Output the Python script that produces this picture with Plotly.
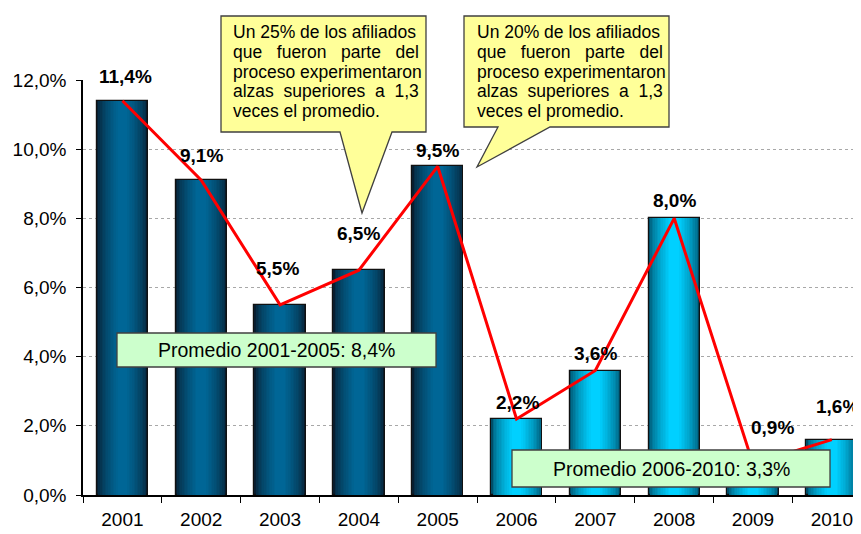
import plotly.graph_objects as go

years = ["2001", "2002", "2003", "2004", "2005", "2006", "2007", "2008", "2009", "2010"]
alzas = [11.4, 9.1, 5.5, 6.5, 9.5, 2.2, 3.6, 8.0, 0.9, 1.6]
prom_1 = "Promedio 2001-2005: 8,4%"
prom_2 = "Promedio 2006-2010: 3,3%"
nota_1 = "Un 25% de los afiliados"
nota_2 = "Un 20% de los afiliados"

FONT = "Liberation Sans, Arial, sans-serif"
OFF = 8  # page body margin
W, H = 861 - OFF, 534 - OFF
L, T, R, B = 83, 80, 861, 495  # plot area in screen pixels


def px(x):
    return (x - L) / (R - L)


def py(y):
    return (B - y) / (B - T)


def mix(c1, c2, t):
    return "rgb(%d,%d,%d)" % tuple(round(a + (b - a) * t) for a, b in zip(c1, c2))


fig = go.Figure()

# bars with a fake horizontal gradient: overlaid bars of decreasing width
n = 14
bw = 0.65
edge1, mid1 = (8, 30, 48), (0, 102, 150)
edge2, mid2 = (0, 78, 105), (0, 208, 255)
for i in range(n):
    t = (i / (n - 1)) ** 0.6
    cols = [mix(edge1, mid1, t) if k < 5 else mix(edge2, mid2, t) for k in range(len(years))]
    fig.add_trace(go.Bar(
        x=years, y=alzas, width=bw * (1 - i / (n + 2)),
        marker=dict(color=cols, line=dict(color="#111" if i == 0 else "rgba(0,0,0,0)", width=1.2 if i == 0 else 0)),
        hoverinfo="skip", showlegend=False))

fig.add_trace(go.Scatter(x=years, y=alzas, mode="lines",
                         line=dict(color="#ff0000", width=3), showlegend=False))

# data labels (x by category index, numeric-looking names confuse annotations)
label_dy = [24, 25, 36, 37, 16, 16, 17, 18, 36, 33]
label_dx = [3, 0, -3, 0, 0, 1, 0, 0, 19, 6]
for k, v in enumerate(alzas):
    fig.add_annotation(x=k, y=v, text="<b>%s%%</b>" % ("%.1f" % v).replace(".", ","),
                       showarrow=False, yanchor="middle", yshift=label_dy[k], xshift=label_dx[k],
                       font=dict(family=FONT, size=19, color="#000"))

shapes = []
# callouts
for pts in ([(221, 16), (426, 16), (426, 132), (392, 132), (362, 213), (340, 132), (221, 132)],
            [(464, 16), (669, 16), (669, 127), (550, 127), (477, 167), (498, 127), (464, 127)]):
    path = "M " + " L ".join("%.5f,%.5f" % (px(a), py(b)) for a, b in pts) + " Z"
    shapes.append(dict(type="path", xref="paper", yref="paper", path=path,
                       fillcolor="#ffff99", line=dict(color="#404040", width=1.3), layer="above"))

sp = "\u00a0"
for left, first in ((231, nota_1), (475, nota_2)):
    lines = [first,
             "que" + sp * 3 + "fueron" + sp * 3 + "parte" + sp * 3 + "del",
             "proceso experimentaron",
             "alzas" + sp * 2 + "superiores" + sp * 2 + "a" + sp * 2 + "1,3",
             "veces el promedio."]
    for j, txt in enumerate(lines):
        fig.add_annotation(xref="paper", yref="paper", x=px(left), y=py(32 + 19.8 * j),
                           xanchor="left", yanchor="middle", text=txt, showarrow=False,
                           font=dict(family=FONT, size=17.5, color="#000"))

# average boxes
for (x0, y0, x1, y1), txt in (((117, 333, 436, 367), prom_1), ((512, 450, 830, 487), prom_2)):
    shapes.append(dict(type="rect", xref="paper", yref="paper", x0=px(x0), x1=px(x1),
                       y0=py(y0), y1=py(y1), fillcolor="#ccffcc",
                       line=dict(color="#404040", width=1.3), layer="above"))
    fig.add_annotation(xref="paper", yref="paper", x=px((x0 + x1) / 2), y=py((y0 + y1) / 2),
                       text=txt, showarrow=False, xanchor="center", yanchor="middle",
                       font=dict(family=FONT, size=19.5, color="#000"))

fig.update_layout(
    width=W, height=H, barmode="overlay", bargap=0,
    margin=dict(l=L - OFF, r=W - (R - OFF), t=T - OFF, b=H - (B - OFF), pad=0),
    paper_bgcolor="white", plot_bgcolor="white",
    separators=",.", shapes=shapes,
    font=dict(family=FONT, color="#000"),
    xaxis=dict(type="category", range=[-0.5, 9.37], tickson="boundaries",
               ticks="outside", ticklen=6, tickcolor="#000", showline=True,
               linecolor="#000", linewidth=2, showgrid=False,
               tickfont=dict(size=19), ticklabelstandoff=6),
    yaxis=dict(range=[0, 12], dtick=2, tickformat=".1f", ticksuffix="%",
               ticks="outside", ticklen=5, tickcolor="#000", showline=True,
               linecolor="#000", linewidth=1.5, zeroline=False,
               showgrid=True, gridcolor="#a8a8a8", griddash="3px,3px", gridwidth=1,
               tickfont=dict(size=19), ticklabelstandoff=6),
)

fig.write_html("out.html")
